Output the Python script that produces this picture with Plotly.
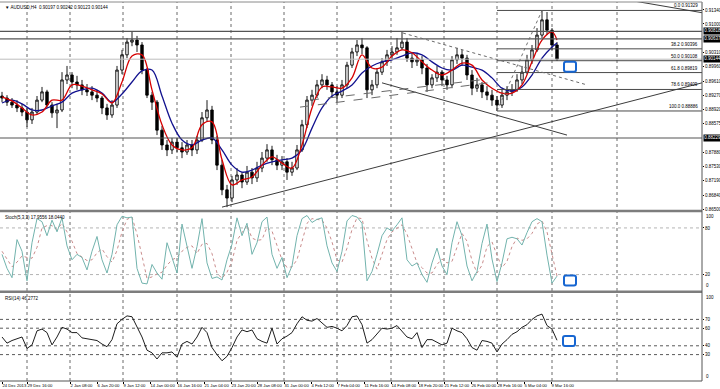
import plotly.graph_objects as go

# ---------------- data (AUDUSD H4, aggregated bars) ----------------
opens = [0.8925, 0.8920, 0.8910, 0.8903, 0.8896, 0.8886, 0.8867, 0.8886, 0.8915, 0.8935,
         0.8903, 0.8884, 0.8891, 0.8964, 0.8976, 0.8959, 0.8952, 0.8940, 0.8935, 0.8927,
         0.8920, 0.8896, 0.8879, 0.8903, 0.8988, 0.9025, 0.9056, 0.9061, 0.9049, 0.8988,
         0.8927, 0.8910, 0.8842, 0.8806, 0.8794, 0.8813, 0.8799, 0.8789, 0.8806, 0.8794,
         0.8818, 0.8872, 0.8891, 0.8818, 0.8757, 0.8697, 0.8677, 0.8721, 0.8733, 0.8716,
         0.8740, 0.8726, 0.8750, 0.8774, 0.8794, 0.8770, 0.8757, 0.8765, 0.8740, 0.8750,
         0.8794, 0.8855, 0.8915, 0.8927, 0.8952, 0.8964, 0.8952, 0.8935, 0.8927, 0.8952,
         0.9000, 0.9032, 0.9049, 0.9042, 0.8940, 0.8952, 0.8983, 0.9008, 0.9025, 0.9032,
         0.9042, 0.9056, 0.9017, 0.9008, 0.9013, 0.8993, 0.8952, 0.8969, 0.8983, 0.8964,
         0.8952, 0.9013, 0.9025, 0.9017, 0.8976, 0.8944, 0.8952, 0.8935, 0.8927, 0.8915,
         0.8903, 0.8927, 0.8935, 0.8940, 0.8964, 0.8983, 0.9013, 0.9037, 0.9073, 0.9110,
         0.9085, 0.9049]
highs = [0.8935, 0.8927, 0.8920, 0.8915, 0.8906, 0.8896, 0.8896, 0.8925, 0.8947, 0.8940,
         0.8910, 0.8906, 0.8983, 0.8998, 0.8983, 0.8974, 0.8964, 0.8954, 0.8949, 0.8940,
         0.8925, 0.8906, 0.8915, 0.8998, 0.9037, 0.9066, 0.9081, 0.9071, 0.9056, 0.8993,
         0.8935, 0.8915, 0.8852, 0.8818, 0.8823, 0.8823, 0.8813, 0.8818, 0.8818, 0.8828,
         0.8886, 0.8915, 0.8901, 0.8828, 0.8770, 0.8709, 0.8731, 0.8750, 0.8740, 0.8755,
         0.8750, 0.8765, 0.8789, 0.8808, 0.8804, 0.8782, 0.8779, 0.8774, 0.8765, 0.8806,
         0.8867, 0.8925, 0.8940, 0.8964, 0.8978, 0.8974, 0.8959, 0.8949, 0.8964, 0.9008,
         0.9042, 0.9061, 0.9066, 0.9046, 0.8964, 0.8993, 0.9017, 0.9037, 0.9046, 0.9066,
         0.9081, 0.9066, 0.9032, 0.9027, 0.9022, 0.9003, 0.8978, 0.8998, 0.8988, 0.8974,
         0.9022, 0.9042, 0.9037, 0.9025, 0.8988, 0.8969, 0.8959, 0.8949, 0.8940, 0.8925,
         0.8940, 0.8949, 0.8954, 0.8978, 0.8998, 0.9025, 0.9049, 0.9090, 0.91329, 0.9129,
         0.9090, 0.9056]
lows = [0.8910, 0.8901, 0.8896, 0.8886, 0.8876, 0.8850, 0.8857, 0.8881, 0.8910, 0.8896,
        0.8872, 0.8847, 0.8886, 0.8954, 0.8944, 0.8940, 0.8927, 0.8925, 0.8915, 0.8910,
        0.8881, 0.8867, 0.8872, 0.8896, 0.8978, 0.9017, 0.9046, 0.9032, 0.8978, 0.8920,
        0.8891, 0.8830, 0.8794, 0.8779, 0.8784, 0.8789, 0.8774, 0.8782, 0.8779, 0.8784,
        0.8813, 0.8862, 0.8808, 0.8745, 0.8684, 0.8655, 0.8667, 0.8709, 0.8701, 0.8709,
        0.8711, 0.8716, 0.8740, 0.8765, 0.8757, 0.8745, 0.8745, 0.8721, 0.8731, 0.8745,
        0.8789, 0.8847, 0.8901, 0.8920, 0.8944, 0.8940, 0.8920, 0.8910, 0.8920, 0.8944,
        0.8993, 0.9022, 0.9027, 0.8920, 0.8927, 0.8944, 0.8976, 0.8998, 0.9013, 0.9025,
        0.9037, 0.9008, 0.8993, 0.8998, 0.8978, 0.8935, 0.8944, 0.8959, 0.8949, 0.8940,
        0.8944, 0.9003, 0.8998, 0.8964, 0.8927, 0.8935, 0.8920, 0.8915, 0.8901, 0.88886,
        0.8896, 0.8915, 0.8925, 0.8935, 0.8954, 0.8978, 0.9003, 0.9032, 0.9066, 0.9073,
        0.9037, 0.9010]
closes = [0.8920, 0.8910, 0.8903, 0.8896, 0.8886, 0.8867, 0.8886, 0.8915, 0.8935, 0.8903,
          0.8884, 0.8891, 0.8964, 0.8976, 0.8959, 0.8952, 0.8940, 0.8935, 0.8927, 0.8920,
          0.8896, 0.8879, 0.8903, 0.8988, 0.9025, 0.9056, 0.9061, 0.9049, 0.8988, 0.8927,
          0.8910, 0.8842, 0.8806, 0.8794, 0.8813, 0.8799, 0.8789, 0.8806, 0.8794, 0.8818,
          0.8872, 0.8891, 0.8818, 0.8757, 0.8697, 0.8677, 0.8721, 0.8733, 0.8716, 0.8740,
          0.8726, 0.8750, 0.8774, 0.8794, 0.8770, 0.8757, 0.8765, 0.8740, 0.8750, 0.8794,
          0.8855, 0.8915, 0.8927, 0.8952, 0.8964, 0.8952, 0.8935, 0.8927, 0.8952, 0.9000,
          0.9032, 0.9049, 0.9042, 0.8940, 0.8952, 0.8983, 0.9008, 0.9025, 0.9032, 0.9042,
          0.9056, 0.9017, 0.9008, 0.9013, 0.8993, 0.8952, 0.8969, 0.8983, 0.8964, 0.8952,
          0.9013, 0.9025, 0.9017, 0.8976, 0.8944, 0.8952, 0.8935, 0.8927, 0.8915, 0.8903,
          0.8927, 0.8935, 0.8940, 0.8964, 0.8983, 0.9013, 0.9037, 0.9073, 0.9110, 0.9085,
          0.9049, 0.90144]

# moving averages, read every second bar plus the last bar
ma_fast = [0.8923, 0.8913, 0.8896, 0.8879, 0.8886, 0.8915, 0.8915, 0.8952, 0.8949, 0.8940,
           0.8930, 0.8908, 0.8959, 0.9022, 0.9025, 0.8940, 0.8855, 0.8806, 0.8794, 0.8799,
           0.8855, 0.8862, 0.8770, 0.8709, 0.8721, 0.8728, 0.8757, 0.8777, 0.8762, 0.8750,
           0.8806, 0.8896, 0.8947, 0.8947, 0.8944, 0.8969, 0.9025, 0.8993, 0.8995, 0.9022,
           0.9037, 0.9030, 0.9008, 0.8988, 0.8976, 0.8988, 0.9005, 0.9000, 0.8964, 0.8944,
           0.8932, 0.8932, 0.8952, 0.9008, 0.9061, 0.9081, 0.9061]
ma_slow = [0.8908, 0.8915, 0.8906, 0.8891, 0.8891, 0.8901, 0.8910, 0.8932, 0.8940, 0.8944,
           0.8932, 0.8910, 0.8930, 0.8959, 0.8986, 0.8988, 0.8925, 0.8859, 0.8818, 0.8806,
           0.8818, 0.8823, 0.8794, 0.8757, 0.8740, 0.8745, 0.8757, 0.8765, 0.8770, 0.8774,
           0.8794, 0.8847, 0.8896, 0.8925, 0.8937, 0.8952, 0.8981, 0.8998, 0.9008, 0.9013,
           0.9022, 0.9030, 0.9025, 0.9008, 0.8993, 0.8988, 0.9000, 0.8995, 0.8988, 0.8969,
           0.8944, 0.8937, 0.8947, 0.8976, 0.9017, 0.9044, 0.9054]

stoch_main = [46, 28, 16, 65, 50, 12, 61, 92, 88, 70,
              90, 75, 93, 57, 39, 46, 42, 26, 50, 69,
              39, 22, 46, 84, 95, 93, 94, 28, 9, 8,
              33, 22, 14, 61, 42, 22, 85, 57, 28, 56,
              92, 35, 15, 17, 13, 39, 59, 93, 70, 86,
              46, 61, 88, 94, 46, 28, 42, 16, 31, 70,
              92, 96, 87, 91, 93, 57, 35, 24, 50, 89,
              96, 94, 86, 12, 24, 46, 70, 80, 76, 84,
              93, 39, 31, 35, 20, 10, 35, 54, 31, 20,
              61, 88, 70, 31, 12, 24, 60, 85, 40, 11,
              35, 66, 68, 66, 58, 74, 88, 92, 88, 45,
              9, 17.9556]
stoch_signal = [50, 40, 30, 36, 44, 42, 41, 55, 80, 83,
                83, 78, 86, 75, 63, 47, 42, 38, 39, 48,
                53, 43, 36, 51, 75, 91, 94, 72, 44, 15,
                17, 21, 23, 32, 39, 42, 50, 55, 57, 47,
                59, 60, 47, 22, 15, 23, 37, 64, 74, 83,
                67, 64, 65, 81, 76, 56, 39, 29, 30, 39,
                64, 86, 92, 91, 90, 80, 62, 39, 36, 54,
                78, 93, 92, 64, 41, 27, 47, 65, 75, 80,
                84, 72, 54, 35, 29, 22, 22, 33, 40, 35,
                37, 56, 73, 63, 38, 22, 32, 56, 62, 45,
                29, 37, 56, 67, 64, 66, 73, 85, 89, 75,
                47, 18.0440]
rsi = [50, 43, 46, 48, 50, 37, 41, 57, 59, 55,
       41, 50, 61, 59, 55, 55, 49, 48, 47, 46,
       42, 39, 47, 65, 70, 74, 73, 62, 50, 35,
       32, 25, 32, 32, 33, 27, 42, 45, 42, 50,
       61, 55, 38, 30, 23, 28, 38, 50, 58, 56,
       58, 48, 45, 43, 60, 42, 48, 51, 55, 65,
       73, 69, 68, 71, 66, 61, 62, 60, 57, 63,
       73, 74, 64, 43, 47, 53, 60, 59, 60, 63,
       56, 50, 48, 55, 38, 47, 47, 44, 41, 43,
       60, 57, 55, 48, 38, 35, 46, 45, 43, 33,
       42, 47, 53, 56, 61, 64, 70, 74, 76, 63,
       59, 46.2772]

header_ohlc = [0.90197, 0.90242, 0.90123, 0.90144]
stoch_params = "Stoch(5,3,3)"
rsi_params = "RSI(14)"

x_labels = ["24 Dec 2013", "29 Dec 16:00", "2 Jan 08:00", "6 Jan 20:00", "9 Jan 12:00",
            "14 Jan 00:00", "16 Jan 16:00", "21 Jan 04:00", "23 Jan 20:00", "28 Jan 08:00",
            "31 Jan 00:00", "4 Feb 12:00", "7 Feb 04:00", "11 Feb 16:00", "14 Feb 08:00",
            "18 Feb 20:00", "21 Feb 12:00", "26 Feb 00:00", "28 Feb 16:00", "5 Mar 04:00",
            "9 Mar 16:00"]
x_label_pos = [0, 5.0, 13.6, 19.0, 24.2, 29.6, 35.0, 40.4, 45.8, 51.0, 56.4, 61.8, 67.0,
               72.4, 77.8, 83.2, 88.4, 93.8, 99.0, 104.4, 109.8]
grid_pos = [5.0, 13.6, 24.2, 35.0, 45.8, 56.4, 67.0, 77.8, 88.4, 99.0, 110.0, 123.0]

price_ticks = [0.86500, 0.86840, 0.87190, 0.87530, 0.87880, 0.88575, 0.88920, 0.89270,
               0.89610, 0.89960, 0.90310, 0.91000, 0.91340]
hlines_dark = [0.90818, 0.90637, 0.88229]
bid_price = 0.90144

fib_high = 0.91329
fib_low = 0.88886
fib_levels = [0.0, 38.2, 50.0, 61.8, 78.6, 100.0]
fib_start_bar = 99
fib_end_bar = 108

stoch_levels = [20, 80]
rsi_levels = [30, 40, 60, 70]

# trend lines drawn on the chart: (bar0, price0, bar1, price1, style)
trend_lines = [
    (44, 0.8655, 140, 0.8957, "solid"),
    (76, 0.8957, 113, 0.8830, "solid"),
    (80.2, 0.9078, 117, 0.8952, "dot"),
    (59.6, 0.8898, 98.6, 0.8959, "dash"),
    (61.6, 0.8915, 95.6, 0.8964, "dash"),
    (126, 0.91566, 140, 0.91274, "solid"),
]

# ---------------- figure ----------------
n = len(closes)
bar_x = list(range(n))
ma_x = list(range(0, n, 2)) + [n - 1]

FONT = "Liberation Sans Narrow, Liberation Sans, Arial, sans-serif"
FS = 4.5

fig = go.Figure()
fig.add_trace(go.Candlestick(
    x=bar_x, open=opens, high=highs, low=lows, close=closes,
    increasing=dict(line=dict(color="#000000", width=0.9), fillcolor="#ffffff"),
    decreasing=dict(line=dict(color="#000000", width=0.9), fillcolor="#000000"),
    whiskerwidth=0, xaxis="x", yaxis="y", showlegend=False, hoverinfo="skip"))
fig.add_trace(go.Scatter(x=ma_x, y=ma_slow, mode="lines", xaxis="x", yaxis="y",
                         line=dict(color="#12128f", width=1.3, shape="spline"),
                         showlegend=False, hoverinfo="skip"))
fig.add_trace(go.Scatter(x=ma_x, y=ma_fast, mode="lines", xaxis="x", yaxis="y",
                         line=dict(color="#d60000", width=1.3, shape="spline"),
                         showlegend=False, hoverinfo="skip"))
fig.add_trace(go.Scatter(x=bar_x, y=stoch_signal, mode="lines", xaxis="x2", yaxis="y2",
                         line=dict(color="#c98c8c", width=1, dash="dot"),
                         showlegend=False, hoverinfo="skip"))
fig.add_trace(go.Scatter(x=bar_x, y=stoch_main, mode="lines", xaxis="x2", yaxis="y2",
                         line=dict(color="#72b3ad", width=1),
                         showlegend=False, hoverinfo="skip"))
fig.add_trace(go.Scatter(x=bar_x, y=rsi, mode="lines", xaxis="x3", yaxis="y3",
                         line=dict(color="#1e1e1e", width=1),
                         showlegend=False, hoverinfo="skip"))

# panel geometry (plot area 2..381 px tall)
main_dom = [0.4512, 1.0]
stoch_dom = [0.2388, 0.4459]
rsi_dom = [0.0, 0.2322]
xrange = [-0.4, 140]

xcommon = dict(range=xrange, showgrid=False, zeroline=False, showline=False,
               fixedrange=True, automargin=False)
ycommon = dict(side="right", showgrid=False, zeroline=False, showline=False,
               ticks="outside", ticklen=1, tickcolor="#000000", tickwidth=1,
               tickfont=dict(size=FS, family=FONT, color="#000000"),
               fixedrange=True, automargin=False)

fig.update_layout(
    template="none",
    width=720, height=389,
    margin=dict(l=0, r=18, t=2, b=8),
    paper_bgcolor="white", plot_bgcolor="white",
    showlegend=False,
    font=dict(family=FONT, size=FS, color="#000000"),
    xaxis=dict(**xcommon, anchor="y", showticklabels=False, ticks="",
               rangeslider=dict(visible=False)),
    xaxis2=dict(**xcommon, anchor="y2", matches="x", showticklabels=False, ticks=""),
    xaxis3=dict(**xcommon, anchor="y3", matches="x", tickmode="array",
                tickvals=x_label_pos, ticktext=x_labels, ticklabelposition="outside right",
                tickangle=0, ticks="outside", ticklen=2, tickcolor="#000000",
                tickfont=dict(size=4.2, family=FONT, color="#000000")),
    yaxis=dict(**ycommon, domain=main_dom, range=[0.8648, 0.91534], tickmode="array",
               tickvals=price_ticks, ticktext=["%.5f" % v for v in price_ticks]),
    yaxis2=dict(**ycommon, domain=stoch_dom, range=[-0.5, 100.5], tickmode="array",
                tickvals=stoch_levels, ticktext=[str(v) for v in stoch_levels]),
    yaxis3=dict(**ycommon, domain=rsi_dom, range=[0, 100], tickmode="array",
                tickvals=rsi_levels, ticktext=[str(v) for v in rsi_levels]),
)

shapes = []
# vertical dotted grid through all panels
for g in grid_pos:
    shapes.append(dict(type="line", xref="x", yref="paper", x0=g, x1=g, y0=0, y1=1,
                       line=dict(color="#6a6a6a", width=1, dash="dot"), layer="below"))
# indicator level lines
for lv in stoch_levels:
    shapes.append(dict(type="line", xref="paper", yref="y2", x0=0, x1=1, y0=lv, y1=lv,
                       line=dict(color="#b4b4b4", width=1, dash="dot"), layer="below"))
for lv in rsi_levels:
    shapes.append(dict(type="line", xref="paper", yref="y3", x0=0, x1=1, y0=lv, y1=lv,
                       line=dict(color="#5a5a5a", width=1, dash="dot"), layer="below"))
# horizontal price lines
for hp in hlines_dark:
    shapes.append(dict(type="line", xref="paper", yref="y", x0=0, x1=1, y0=hp, y1=hp,
                       line=dict(color="#555555", width=1.2)))
shapes.append(dict(type="line", xref="paper", yref="y", x0=0, x1=1, y0=bid_price, y1=bid_price,
                   line=dict(color="#bdbdbd", width=1)))
# fibonacci retracement
fib_prices = [fib_high - (fib_high - fib_low) * lv / 100.0 for lv in fib_levels]
for fp in fib_prices:
    shapes.append(dict(type="line", xref="x", yref="y", x0=fib_start_bar, x1=xrange[1],
                       y0=fp, y1=fp, line=dict(color="#4a4a4a", width=1)))
shapes.append(dict(type="line", xref="x", yref="y", x0=fib_start_bar, y0=fib_low,
                   x1=fib_end_bar, y1=fib_high, line=dict(color="#707070", width=1, dash="dot")))
# trend lines
for (bx0, p0, bx1, p1, st) in trend_lines:
    shapes.append(dict(type="line", xref="x", yref="y", x0=bx0, y0=p0, x1=bx1, y1=p1,
                       line=dict(color="#3c3c3c" if st == "solid" else "#6a6a6a",
                                 width=1, dash=st)))
# panel separators and frame
for yp in [0.4485, 0.2356]:
    shapes.append(dict(type="line", xref="paper", yref="paper", x0=0, x1=1, y0=yp, y1=yp,
                       line=dict(color="#7d7d7d", width=2.5)))
shapes.append(dict(type="line", xref="paper", yref="paper", x0=1, x1=1, y0=0, y1=1,
                   line=dict(color="#555555", width=1)))
shapes.append(dict(type="line", xref="paper", yref="paper", x0=0, x1=1, y0=0, y1=0,
                   line=dict(color="#555555", width=1)))
shapes.append(dict(type="line", xref="paper", yref="paper", x0=0, x1=1, y0=1, y1=1,
                   line=dict(color="#8a8a8a", width=1)))
# blue rounded markers
rr = "M -6,-3 Q -6,-5 -4,-5 L 4,-5 Q 6,-5 6,-3 L 6,3 Q 6,5 4,5 L -4,5 Q -6,5 -6,3 Z"
for (ax, ay, yr) in [(113.6, 0.8996, "y"), (113.6, 12.4, "y2"), (113.4, 45.5, "y3")]:
    shapes.append(dict(type="path", xref="x", yref=yr, xsizemode="pixel", ysizemode="pixel",
                       xanchor=ax, yanchor=ay, path=rr,
                       line=dict(color="#1766d1", width=2), fillcolor="white"))
fig.update_layout(shapes=shapes)

ann = []
hdr = "\u25bc AUDUSD,H4  " + " ".join("%.5f" % v for v in header_ohlc)
ann.append(dict(xref="paper", yref="paper", x=0.004, y=0.998, xanchor="left", yanchor="top",
                text=hdr, showarrow=False, font=dict(size=FS, family=FONT, color="#000000")))
ann.append(dict(xref="paper", yref="y2 domain", x=0.004, y=0.99, xanchor="left", yanchor="top",
                text="%s %.4f %.4f" % (stoch_params, stoch_main[-1], stoch_signal[-1]),
                showarrow=False, font=dict(size=FS, family=FONT, color="#000000")))
ann.append(dict(xref="paper", yref="y3 domain", x=0.004, y=0.99, xanchor="left", yanchor="top",
                text="%s %.4f" % (rsi_params, rsi[-1]),
                showarrow=False, font=dict(size=FS, family=FONT, color="#000000")))
# fib labels
for lv, fp in zip(fib_levels, fib_prices):
    ann.append(dict(xref="paper", yref="y", x=0.997, y=fp, xanchor="right", yanchor="bottom",
                    text="%.1f %.5f" % (lv, fp), showarrow=False,
                    font=dict(size=FS, family=FONT, color="#000000")))
# black price boxes on the right scale
for bp in hlines_dark + [bid_price]:
    ann.append(dict(xref="paper", yref="y", x=1.0, y=bp, xanchor="left", yanchor="middle",
                    xshift=0.5, text="%.5f" % bp, showarrow=False, bgcolor="#000000",
                    borderpad=0.3, font=dict(size=FS, family=FONT, color="#ffffff")))
# 0 / 100 labels kept inside the indicator panels
for yr in ["y2", "y3"]:
    ann.append(dict(xref="paper", yref=yr, x=1.0, y=100, xanchor="left", yanchor="top",
                    xshift=2, text="100", showarrow=False,
                    font=dict(size=FS, family=FONT, color="#000000")))
    ann.append(dict(xref="paper", yref=yr, x=1.0, y=0, xanchor="left", yanchor="bottom",
                    xshift=2, text="0", showarrow=False,
                    font=dict(size=FS, family=FONT, color="#000000")))
fig.update_layout(annotations=ann)

fig.write_html("out.html", config={"displayModeBar": False, "staticPlot": True},
               post_script="document.body.style.margin='0';document.body.style.padding='0';")
